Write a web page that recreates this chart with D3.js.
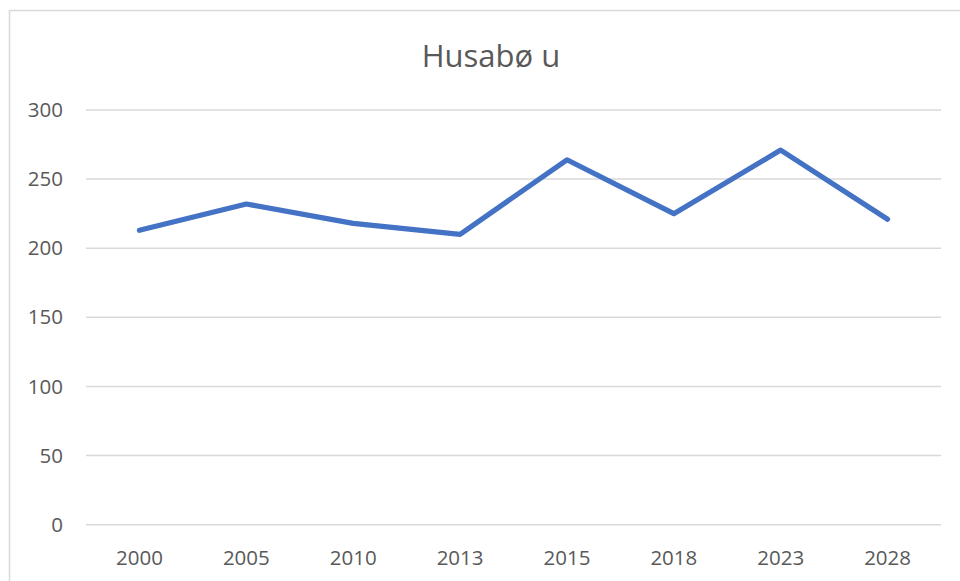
<!DOCTYPE html>
<html>
<head>
<meta charset="utf-8">
<script src="https://cdn.jsdelivr.net/npm/d3@7/dist/d3.min.js"></script>
<style>
  html, body { margin: 0; padding: 0; background: #fff; }
  svg { display: block; }
  text { font-family: "Open Sans", "Liberation Sans", sans-serif; fill: #595959; }
</style>
</head>
<body>
<svg id="chart" width="960" height="581"></svg>
<script>
const title = "Husabø u";
const categories = ["2000", "2005", "2010", "2013", "2015", "2018", "2023", "2028"];
const values = [213, 232, 218, 210, 264, 225, 271, 221];
const yTicks = [0, 50, 100, 150, 200, 250, 300];

const svg = d3.select("#chart");
const W = 960, H = 581;
const plot = { left: 86, right: 941, top: 110, bottom: 524.7 };

// chart frame
svg.append("rect")
  .attr("x", 9.5).attr("y", 10.5)
  .attr("width", W + 20).attr("height", H + 20)
  .attr("fill", "none").attr("stroke", "#d9d9d9").attr("stroke-width", 1.5);

const x = d3.scaleBand().domain(categories).range([plot.left, plot.right]).padding(0);
const y = d3.scaleLinear().domain([0, 300]).range([plot.bottom, plot.top]);

// gridlines
svg.append("g").selectAll("line").data(yTicks).join("line")
  .attr("x1", plot.left).attr("x2", plot.right)
  .attr("y1", d => y(d)).attr("y2", d => y(d))
  .attr("stroke", "#d9d9d9").attr("stroke-width", 1.5);

// y axis labels
const yAxis = d3.axisLeft(y).tickValues(yTicks).tickSize(0).tickPadding(0);
const gy = svg.append("g").attr("transform", `translate(${63},0)`).call(yAxis);
gy.select(".domain").remove();
gy.selectAll("text").style("font-size", "20.5px").attr("fill", "#595959")
  .style("font-family", '"Open Sans", "Liberation Sans", sans-serif');

// x axis labels
const xAxis = d3.axisBottom(x).tickSize(0).tickPadding(0);
const gx = svg.append("g").attr("transform", `translate(0,${548})`).call(xAxis);
gx.select(".domain").remove();
gx.selectAll("text").attr("dy", "0").attr("y", 17)
  .style("font-size", "20.5px").attr("fill", "#595959")
  .style("font-family", '"Open Sans", "Liberation Sans", sans-serif');

// line
const line = d3.line()
  .x((d, i) => x(categories[i]) + x.bandwidth() / 2)
  .y(d => y(d));
svg.append("path").datum(values)
  .attr("d", line)
  .attr("fill", "none")
  .attr("stroke", "#4472C4")
  .attr("stroke-width", 5.2)
  .attr("stroke-linejoin", "round")
  .attr("stroke-linecap", "round");

// title
svg.append("text")
  .attr("x", 491).attr("y", 66.7)
  .attr("text-anchor", "middle")
  .style("font-size", "31px")
  .text(title);
</script>
</body>
</html>
